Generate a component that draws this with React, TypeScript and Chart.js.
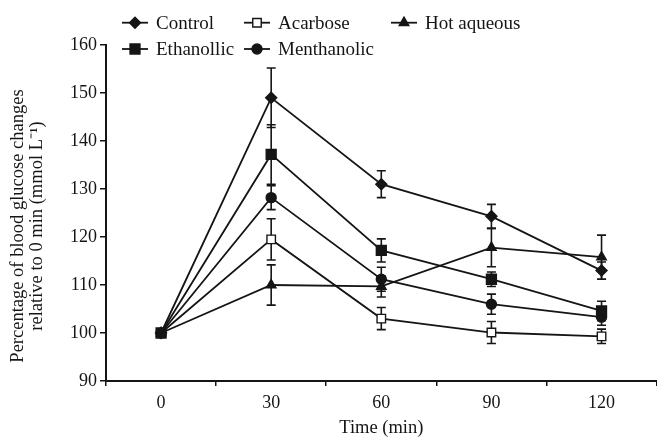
import { useEffect, useRef } from 'react';
import { Chart, registerables } from 'chart.js';

Chart.register(...registerables);

const timeLabels = ['0', '30', '60', '90', '120'];
const seriesNames = ['Control', 'Acarbose', 'Hot aqueous', 'Ethanollic', 'Menthanolic'];
const controlMean = [100, 149, 131, 124.3, 113];
const controlSem = [0, 6.2, 2.8, 2.5, 1.8];
const acarboseMean = [100, 119.5, 103, 100.1, 99.3];
const acarboseSem = [0, 4.3, 2.3, 2.3, 1.5];
const hotAqueousMean = [100, 110, 109.7, 117.8, 115.8];
const hotAqueousSem = [0, 4.2, 2.2, 4, 4.6];
const ethanollicMean = [100, 137.2, 117.2, 111.2, 104.6];
const ethanollicSem = [0, 6.2, 2.4, 1.5, 2];
const menthanolicMean = [100, 128.2, 111.2, 106, 103.3];
const menthanolicSem = [0, 2.5, 2.5, 2.1, 1.7];
const yTitleLines = ['Percentage of blood glucose changes', 'relative to 0 min (mmol L\u207B\u00B9)'];
const xTitle = 'Time (min)';

const INK = '#151515';
const FONT = 'Liberation Serif';

type Marker = { style: string; radius: number; fill: string };

function drawMarker(ctx: CanvasRenderingContext2D, m: Marker, x: number, y: number) {
  ctx.save();
  ctx.beginPath();
  const r = m.radius;
  if (m.style === 'circle') {
    ctx.arc(x, y, r, 0, Math.PI * 2);
  } else if (m.style === 'rect') {
    const s = r * Math.SQRT1_2;
    ctx.rect(x - s, y - s, 2 * s, 2 * s);
  } else if (m.style === 'rectRot') {
    ctx.moveTo(x, y - r);
    ctx.lineTo(x + r, y);
    ctx.lineTo(x, y + r);
    ctx.lineTo(x - r, y);
    ctx.closePath();
  } else if (m.style === 'triangle') {
    const h = r * 1.5;
    ctx.moveTo(x, y - r);
    ctx.lineTo(x + r * 0.87, y + h - r);
    ctx.lineTo(x - r * 0.87, y + h - r);
    ctx.closePath();
  }
  ctx.fillStyle = m.fill;
  ctx.fill();
  ctx.lineWidth = 1.4;
  ctx.strokeStyle = INK;
  ctx.stroke();
  ctx.restore();
}

const markers: Marker[] = [
  { style: 'rectRot', radius: 5.5, fill: INK },
  { style: 'rect', radius: 6, fill: '#ffffff' },
  { style: 'triangle', radius: 5.5, fill: INK },
  { style: 'rect', radius: 7, fill: INK },
  { style: 'circle', radius: 5, fill: INK },
];

const legendPos = [
  { x: 122, y: 22.7 },
  { x: 244, y: 22.7 },
  { x: 391, y: 22.7 },
  { x: 122, y: 49 },
  { x: 244, y: 49 },
];

const errorBarPlugin = {
  id: 'errorBars',
  beforeDatasetsDraw(chart: any) {
    const ctx = chart.ctx as CanvasRenderingContext2D;
    const xs = chart.scales.x;
    const ys = chart.scales.y;
    ctx.save();
    ctx.strokeStyle = INK;
    ctx.lineWidth = 1.6;
    chart.data.datasets.forEach((ds: any) => {
      (ds.data as number[]).forEach((v, i) => {
        const e = ds.sem[i];
        if (!e) return;
        const x = xs.getPixelForValue(i);
        const yT = ys.getPixelForValue(v + e);
        const yB = ys.getPixelForValue(v - e);
        ctx.beginPath();
        ctx.moveTo(x, yT);
        ctx.lineTo(x, yB);
        ctx.moveTo(x - 4.5, yT);
        ctx.lineTo(x + 4.5, yT);
        ctx.moveTo(x - 4.5, yB);
        ctx.lineTo(x + 4.5, yB);
        ctx.stroke();
      });
    });
    ctx.restore();
  },
};

const legendPlugin = {
  id: 'customLegend',
  afterDraw(chart: any) {
    const ctx = chart.ctx as CanvasRenderingContext2D;
    ctx.save();
    ctx.font = `19px "${FONT}"`;
    ctx.textBaseline = 'middle';
    ctx.fillStyle = INK;
    chart.data.datasets.forEach((ds: any, i: number) => {
      const p = legendPos[i];
      ctx.beginPath();
      ctx.strokeStyle = INK;
      ctx.lineWidth = 1.8;
      ctx.moveTo(p.x, p.y);
      ctx.lineTo(p.x + 26, p.y);
      ctx.stroke();
      drawMarker(ctx, markers[i], p.x + 13, p.y);
      ctx.fillStyle = INK;
      ctx.fillText(ds.label, p.x + 34, p.y + 1);
    });
    ctx.restore();
  },
};

const yTitlePlugin = {
  id: 'yTitle',
  afterDraw(chart: any) {
    const ctx = chart.ctx as CanvasRenderingContext2D;
    const area = chart.chartArea;
    const cy = (area.top + area.bottom) / 2 + 13;
    ctx.save();
    ctx.font = `18.5px "${FONT}"`;
    ctx.fillStyle = INK;
    ctx.textAlign = 'center';
    ctx.textBaseline = 'middle';
    yTitleLines.forEach((line, i) => {
      ctx.save();
      ctx.translate(18 + i * 19.5, cy);
      ctx.rotate(-Math.PI / 2);
      ctx.fillText(line, 0, 0);
      ctx.restore();
    });
    ctx.restore();
  },
};

const means = [controlMean, acarboseMean, hotAqueousMean, ethanollicMean, menthanolicMean];
const sems = [controlSem, acarboseSem, hotAqueousSem, ethanollicSem, menthanolicSem];

export default function App() {
  const ref = useRef<HTMLCanvasElement>(null);
  useEffect(() => {
    const datasets = seriesNames.map((name, i) => ({
      label: name,
      data: means[i],
      sem: sems[i],
      borderColor: INK,
      borderWidth: 1.8,
      backgroundColor: markers[i].fill,
      pointStyle: markers[i].style,
      pointRadius: markers[i].radius,
      pointBorderColor: INK,
      pointBorderWidth: 1.4,
      pointBackgroundColor: markers[i].fill,
      tension: 0,
      order: name === 'Ethanollic' ? 0 : 1,
    }));
    const chart = new Chart(ref.current!, {
      type: 'line',
      data: { labels: timeLabels, datasets: datasets as any },
      options: {
        responsive: false,
        animation: false,
        devicePixelRatio: 1,
        layout: { padding: { top: 45, right: 5, bottom: 0, left: 0 } },
        plugins: { legend: { display: false }, tooltip: { enabled: false } },
        scales: {
          x: {
            type: 'category',
            offset: true,
            grid: { offset: true, drawOnChartArea: false, drawTicks: true, tickLength: 5, color: INK, lineWidth: 1.5 },
            border: { display: true, color: INK, width: 2 },
            ticks: { color: INK, font: { family: FONT, size: 18 }, padding: 6 },
            title: { display: true, text: xTitle, color: INK, font: { family: FONT, size: 18.5 }, padding: { top: 0, bottom: 1 } },
            afterFit: (s: any) => { s.height = 59; },
          },
          y: {
            min: 90,
            max: 160,
            ticks: { stepSize: 10, color: INK, font: { family: FONT, size: 18 }, padding: 3 },
            grid: { drawOnChartArea: false, drawTicks: true, tickLength: 6, color: INK, lineWidth: 1.5 },
            border: { display: true, color: INK, width: 2 },
            title: { display: false },
            afterFit: (s: any) => { s.width = 106; },
          },
        },
      },
      plugins: [errorBarPlugin, legendPlugin, yTitlePlugin],
    });
    return () => chart.destroy();
  }, []);
  return (
    <div style={{ position: 'fixed', left: 0, top: 0, width: 657, height: 440, overflow: 'hidden', background: '#fff' }}>
      <canvas ref={ref} width={665} height={440} style={{ display: 'block' }} />
    </div>
  );
}
